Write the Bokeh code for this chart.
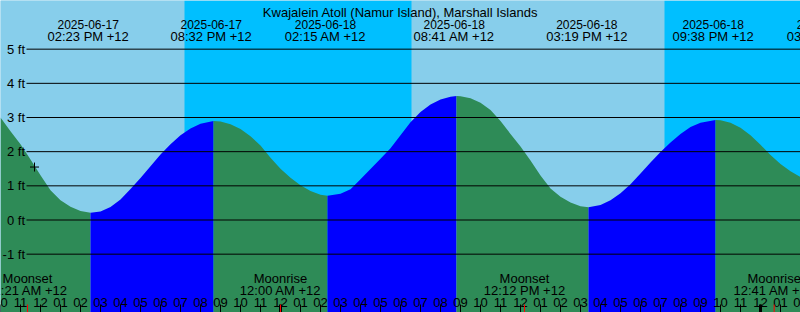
from bokeh.plotting import figure
from bokeh.models import Range1d
from bokeh.embed import file_html
from bokeh.resources import INLINE
from bokeh.core.properties import value

# ---------------- data ----------------
title_text = "Kwajalein Atoll (Namur Island), Marshall Islands"

# time axis: hours since 2025-06-17 10:00 (+12)
tide_hours = [0.0, 0.5, 1.0, 1.25, 1.5, 2.0, 2.5, 3.0, 3.5, 4.0, 4.5,
              5.0, 5.5, 6.0, 6.5, 7.0, 7.5, 8.0, 8.5, 9.0, 9.5, 10.0, 10.65,
              11.0, 11.5, 12.0, 12.5, 13.0, 13.5, 14.0, 14.5, 15.0, 15.5, 16.0, 16.35,
              17.0, 17.5, 18.0, 18.5, 19.0, 19.5, 20.0, 20.5, 21.0, 21.5, 22.0, 22.5, 22.8,
              23.0, 23.5, 24.0, 24.5, 25.0, 25.5, 26.0, 26.5, 27.0, 27.5, 28.0, 28.5, 29.0, 29.4,
              30.0, 30.5, 31.0, 31.5, 32.0, 32.5, 33.0, 33.5, 34.0, 34.5, 35.0, 35.75,
              36.0, 36.5, 37.0, 37.5, 38.0, 38.5, 39.0, 39.5, 40.0]
tide_ft = [3.00, 2.60, 2.22, 2.00, 1.77, 1.31, 0.87, 0.58, 0.39, 0.26, 0.21,
           0.25, 0.38, 0.60, 0.91, 1.23, 1.57, 1.92, 2.22, 2.48, 2.68, 2.82, 2.90,
           2.88, 2.80, 2.66, 2.45, 2.18, 1.82, 1.50, 1.24, 1.02, 0.85, 0.74, 0.71,
           0.77, 0.90, 1.19, 1.49, 1.79, 2.10, 2.48, 2.86, 3.16, 3.38, 3.53, 3.61, 3.63,
           3.62, 3.56, 3.43, 3.22, 2.90, 2.52, 2.15, 1.74, 1.30, 0.92, 0.68, 0.51, 0.40, 0.37,
           0.44, 0.58, 0.78, 1.05, 1.36, 1.68, 1.99, 2.27, 2.52, 2.72, 2.85, 2.93,
           2.92, 2.85, 2.70, 2.48, 2.20, 1.90, 1.64, 1.43, 1.26]

# day / night periods (hours)
day_start = [0.0, 20.55]
day_end = [9.2, 33.2]
night_start = [9.2, 33.2]
night_end = [20.55, 40.0]

# tide events (top labels)
event_hours = [4.383, 10.533, 16.25, 22.683, 29.317, 35.633, 41.35]
event_dates = ["2025-06-17", "2025-06-17", "2025-06-18", "2025-06-18",
               "2025-06-18", "2025-06-18", "2025-06-19"]
event_times = ["02:23 PM +12", "08:32 PM +12", "02:15 AM +12", "08:41 AM +12",
               "03:19 PM +12", "09:38 PM +12", "03:21 AM +12"]

# moon events (bottom labels)
moon_hours = [1.35, 14.0, 26.2, 38.683]
moon_names = ["Moonset", "Moonrise", "Moonset", "Moonrise"]
moon_times = ["11:21 AM +12", "12:00 AM +12", "12:12 PM +12", "12:41 AM +12"]

# hour ticks
tick_hours = list(range(0, 41))
tick_labels = ["10", "11", "12", "01", "02", "03", "04", "05", "06", "07", "08", "09",
               "10", "11", "12", "01", "02", "03", "04", "05", "06", "07", "08", "09",
               "10", "11", "12", "01", "02", "03", "04", "05", "06", "07", "08", "09",
               "10", "11", "12", "01", "02"]
midnight_hours = [14, 38]

# level lines
level_ft = [-1, 0, 1, 2, 3, 4, 5]
level_labels = ["-1 ft", "0 ft", "1 ft", "2 ft", "3 ft", "4 ft", "5 ft"]

# current time marker
now_hours = [1.70]
now_ft = [1.55]

# ---------------- layout helpers ----------------
W, H = 800, 312
X0, X1 = 0.0, 40.0
Y_TOP = 6.4244
Y_BOT = -2.7073


def py(pix):
    return Y_TOP - pix * (Y_TOP - Y_BOT) / H


def px(pix):
    return X0 + pix * (X1 - X0) / W


FONT = value("Liberation Sans")
FS = "13px"
FS_DATE = "12px"

p = figure(width=W, height=H, x_range=Range1d(X0, X1), y_range=Range1d(Y_BOT, Y_TOP),
           output_backend="svg", toolbar_location=None, min_border=0,
           x_axis_location=None, y_axis_location=None, outline_line_color=None)
p.grid.visible = False
p.background_fill_color = "#87CEEB"
p.border_fill_color = "#87CEEB"

# day / night background
p.quad(left=day_start, right=day_end, bottom=Y_BOT, top=Y_TOP,
       fill_color="#87CEEB", line_color=None)
p.quad(left=night_start, right=night_end, bottom=Y_BOT, top=Y_TOP,
       fill_color="#00BFFF", line_color=None)

# tide fill: split at turning points, rising = blue, falling = green
segs = []
start = 0
n = len(tide_ft)
for i in range(1, n - 1):
    if (tide_ft[i] - tide_ft[i - 1]) * (tide_ft[i + 1] - tide_ft[i]) < 0:
        segs.append((start, i))
        start = i
segs.append((start, n - 1))
for a, b in segs:
    rising = tide_ft[b] > tide_ft[a]
    col = "#0000FF" if rising else "#2E8B57"
    p.varea(x=tide_hours[a:b + 1], y1=[Y_BOT] * (b - a + 1), y2=tide_ft[a:b + 1],
            fill_color=col)

# level lines
p.segment(x0=[px(26)] * len(level_ft), x1=[X1] * len(level_ft), y0=level_ft, y1=level_ft,
          line_color="black", line_width=1)
p.text(x=[px(24.5)] * len(level_ft), y=level_ft, text=level_labels, text_font=FONT,
       text_font_size=FS, text_align="right", text_baseline="middle", text_color="black")

# title
p.text(x=[20.0], y=[py(11.7)], text=[title_text], text_font=FONT, text_font_size=FS,
       text_align="center", text_baseline="alphabetic", text_color="black")

# event labels
p.text(x=event_hours, y=[py(24.3)] * len(event_hours), text=event_dates, text_font=FONT,
       text_font_size=FS_DATE, text_align="center", text_baseline="alphabetic",
       text_color="black")
p.text(x=event_hours, y=[py(36.0)] * len(event_hours), text=event_times, text_font=FONT,
       text_font_size=FS, text_align="center", text_baseline="alphabetic", text_color="black")

# moon labels
p.text(x=moon_hours, y=[py(277.7)] * len(moon_hours), text=moon_names, text_font=FONT,
       text_font_size=FS, text_align="center", text_baseline="alphabetic", text_color="black")
p.text(x=moon_hours, y=[py(289.5)] * len(moon_hours), text=moon_times, text_font=FONT,
       text_font_size=FS, text_align="center", text_baseline="alphabetic", text_color="black")

# hour tick labels and ticks
p.text(x=tick_hours, y=[py(301.7)] * len(tick_hours), text=tick_labels, text_font=FONT,
       text_font_size=FS, text_align="center", text_baseline="alphabetic", text_color="black")
p.segment(x0=tick_hours, x1=tick_hours, y0=[py(304)] * len(tick_hours),
          y1=[Y_BOT] * len(tick_hours), line_color="black", line_width=1)
p.segment(x0=midnight_hours, x1=midnight_hours, y0=[py(304)] * len(midnight_hours),
          y1=[Y_BOT] * len(midnight_hours), line_color="black", line_width=3)
p.segment(x0=moon_hours, x1=moon_hours, y0=[py(304)] * len(moon_hours),
          y1=[Y_BOT] * len(moon_hours), line_color="red", line_width=1)

# current time marker
p.scatter(x=now_hours, y=now_ft, marker="cross", size=9, line_color="black", line_width=1)

open("out.html", "w").write(file_html(p, INLINE))
